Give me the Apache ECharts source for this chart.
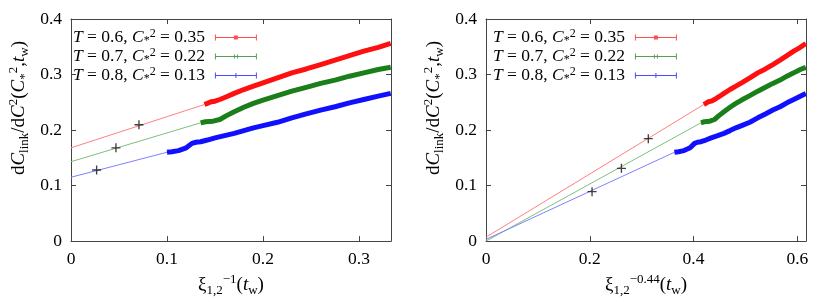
<!DOCTYPE html>
<html><head><meta charset="utf-8">
<script src="https://cdn.jsdelivr.net/npm/echarts@6/dist/echarts.min.js"></script>
<style>html,body{margin:0;padding:0;background:#fff}#c{width:830px;height:302px}</style>
</head><body><div id="c"></div>
<script>
// ---- data ----
const seriesNames = ['T06', 'T07', 'T08'];
const legendLabels = ['0.6', '0.7', '0.8'];
const legendC2 = ['0.35', '0.22', '0.13'];

// y values (shared by both panels)
const redY   = [0.246,0.248,0.251,0.252,0.255,0.260,0.266,0.273,0.279,0.285,0.294,0.303,0.310,0.318,0.326,0.334,0.342,0.349,0.356];
const greenY = [0.213,0.215,0.216,0.219,0.226,0.233,0.241,0.248,0.254,0.262,0.270,0.277,0.284,0.290,0.297,0.303,0.309,0.313];
const blueY  = [0.160,0.161,0.163,0.168,0.176,0.178,0.179,0.182,0.186,0.190,0.194,0.199,0.204,0.208,0.214,0.222,0.229,0.236,0.242,0.249,0.255,0.261,0.266];

// left panel x: xi^-1
const redXL   = [0.139,0.142,0.146,0.150,0.155,0.162,0.170,0.180,0.190,0.200,0.215,0.230,0.245,0.260,0.275,0.290,0.305,0.320,0.333];
const greenXL = [0.135,0.140,0.148,0.155,0.162,0.170,0.180,0.190,0.200,0.215,0.230,0.245,0.260,0.275,0.290,0.305,0.320,0.333];
const blueXL  = [0.100,0.105,0.112,0.120,0.126,0.130,0.135,0.142,0.150,0.160,0.170,0.180,0.190,0.200,0.215,0.230,0.245,0.260,0.275,0.290,0.305,0.320,0.333];

// right panel x: xi^-0.44
const redXR   = [0.4197,0.4236,0.4289,0.4340,0.4403,0.4489,0.4586,0.4703,0.4816,0.4926,0.5085,0.5238,0.5385,0.5528,0.5667,0.5800,0.5930,0.6057,0.6164];
const greenXR = [0.4143,0.4210,0.4314,0.4403,0.4489,0.4586,0.4703,0.4816,0.4926,0.5085,0.5238,0.5385,0.5528,0.5667,0.5800,0.5930,0.6057,0.6164];
const blueXR  = [0.3631,0.3710,0.3816,0.3934,0.4019,0.4075,0.4143,0.4236,0.4340,0.4465,0.4586,0.4703,0.4816,0.4926,0.5085,0.5238,0.5385,0.5528,0.5667,0.5800,0.5930,0.6057,0.6164];

// fit lines [x0,y0,x1,y1]
const fitL = [[0,0.168,0.139,0.246],[0,0.143,0.135,0.213],[0,0.115,0.100,0.160]];
const fitR = [[0,0.007,0.4197,0.246],[0,0.000,0.4143,0.213],[0,0.003,0.3631,0.160]];

// extrapolated points (black +)
const plusL = [[0.0708,0.2095],[0.0468,0.168],[0.0267,0.128]];
const plusR = [[0.3128,0.1845],[0.261,0.131],[0.2044,0.089]];

const xTicksL = [0, 0.1, 0.2, 0.3];
const xTicksR = [0, 0.2, 0.4, 0.6];
const yTicks = [0, 0.1, 0.2, 0.3, 0.4];

// ---- styling ----
const F = 'Liberation Serif';
const dataColors = ['#ff1010', '#1a7f1a', '#1010ff'];
const fitColors = ['#ff8080', '#80bf80', '#8080ff'];
function makeRich(lh, big, small) {
  return {
    n:   {fontFamily: F, fontSize: big, lineHeight: lh, color: '#000'},
    i:   {fontFamily: F, fontSize: big, fontStyle: 'italic', lineHeight: lh, color: '#000'},
    sub: {fontFamily: F, fontSize: small, verticalAlign: 'bottom', lineHeight: small + 1, color: '#000'},
    sup: {fontFamily: F, fontSize: small, verticalAlign: 'top', lineHeight: small + 1, color: '#000'}
  };
}
const richAxis = makeRich(24, 19, 13);
const richLeg = makeRich(19, 17.5, 12);
const yName = '{n|d}{i|C}{sub|link}{n|/d}{i|C}{sup|2}{n|(}{i|C}{sub|*}{sup|2}{n|,}{i|t}{sub|w}{n|)}';
const xNameL = '{n|ξ}{sub|1,2}{sup|−1}{n|(}{i|t}{sub|w}{n|)}';
const xNameR = '{n|ξ}{sub|1,2}{sup|−0.44}{n|(}{i|t}{sub|w}{n|)}';

const zip = (xs, ys) => xs.map((x, k) => [x, ys[k]]);
const XL = [redXL, greenXL, blueXL], XR = [redXR, greenXR, blueXR], Y = [redY, greenY, blueY];

const axisCol = '#444';
function xAxis(gi, max, interval, name, pos) {
  const main = pos === 'bottom';
  return {
    type: 'value', gridIndex: gi, position: pos, min: 0, max: max, interval: interval,
    axisLine: {show: true, onZero: false, lineStyle: {color: axisCol, width: 1}},
    axisTick: {show: true, inside: true, length: 5, lineStyle: {color: axisCol}},
    axisLabel: {show: main, showMaxLabel: false, margin: 9, fontFamily: F, fontSize: 17.5, color: '#000'},
    splitLine: {show: false},
    name: main ? name : '', nameLocation: 'middle', nameGap: 30,
    nameTextStyle: {rich: richAxis}
  };
}
function yAxis(gi, pos) {
  const main = pos === 'left';
  return {
    type: 'value', gridIndex: gi, position: pos, min: 0, max: 0.4, interval: 0.1,
    axisLine: {show: true, onZero: false, lineStyle: {color: axisCol, width: 1}},
    axisTick: {show: true, inside: true, length: 5, lineStyle: {color: axisCol}},
    axisLabel: {show: main, margin: 9, fontFamily: F, fontSize: 17.5, color: '#000'},
    splitLine: {show: false},
    name: main ? yName : '', nameLocation: 'middle', nameGap: 40,
    nameTextStyle: {rich: richAxis, padding: [0, 0, 0, 44]}
  };
}

const series = [];
function addPanel(xi, yi, Xs, fits, plus) {
  for (let k = 0; k < 3; k++) {
    const f = fits[k];
    series.push({type: 'line', xAxisIndex: xi, yAxisIndex: yi, data: [[f[0], f[1]], [f[2], f[3]]],
      symbol: 'none', lineStyle: {color: fitColors[k], width: 1}, z: 2, silent: true});
  }
  for (let k = 0; k < 3; k++) {
    series.push({type: 'line', name: seriesNames[k], xAxisIndex: xi, yAxisIndex: yi, data: zip(Xs[k], Y[k]),
      symbol: 'none', color: dataColors[k], lineStyle: {color: dataColors[k], width: 5}, z: 3});
  }
  series.push({type: 'scatter', xAxisIndex: xi, yAxisIndex: yi, data: plus,
    symbol: 'path://M4,0h1.4v9.4h-1.4z M0,4h9.4v1.4h-9.4z', symbolSize: 9,
    itemStyle: {color: '#111'}, z: 5});
}
addPanel(0, 0, XL, fitL, plusL);
addPanel(2, 2, XR, fitR, plusR);

const icons = [
  'path://M0,3.5h42v1h-42z M0,1h1v6h-1z M41,1h1v6h-1z M19,2h4v4h-4z',
  'path://M0,3.5h42v1h-42z M0,1h1v6h-1z M41,1h1v6h-1z M19,2h1v4h-1z M22,2h1v4h-1z',
  'path://M0,3.5h42v1h-42z M0,1h1v6h-1z M41,1h1v6h-1z M20.5,1.5h1v5h-1z'
];
function legend(left) {
  return {
    left: left, top: 23, orient: 'vertical', align: 'right', itemGap: 0,
    itemWidth: 42, itemHeight: 8,
    data: seriesNames.map((n, k) => ({name: n, icon: icons[k], itemStyle: {color: dataColors[k], opacity: 0.75}})),
    formatter: n => {
      const k = seriesNames.indexOf(n);
      return '{i|T}{n| = ' + legendLabels[k] + ', }{i|C}{sub|*}{sup|2}{n| = ' + legendC2[k] + '}';
    },
    textStyle: {rich: richLeg, padding: [0, 5, 0, 0]},
    selectedMode: false
  };
}

const chart = echarts.init(document.getElementById('c'), null, {renderer: 'canvas'});
chart.setOption({
  animation: false,
  backgroundColor: '#fff',
  grid: [
    {left: 71, top: 19, width: 320, height: 224},
    {left: 486, top: 19, width: 320, height: 224}
  ],
  xAxis: [
    xAxis(0, 0.3333, 0.1, xNameL, 'bottom'),
    xAxis(0, 0.3333, 0.1, '', 'top'),
    xAxis(1, 0.6167, 0.2, xNameR, 'bottom'),
    xAxis(1, 0.6167, 0.2, '', 'top')
  ],
  yAxis: [yAxis(0, 'left'), yAxis(0, 'right'), yAxis(1, 'left'), yAxis(1, 'right')],
  legend: [legend(68), legend(488)],
  series: series
});
</script></body></html>
